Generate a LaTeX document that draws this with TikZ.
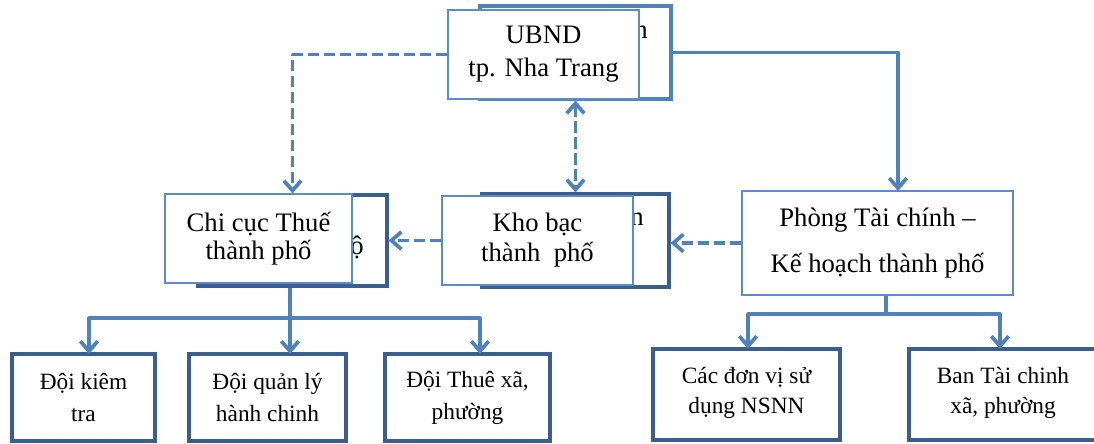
\documentclass[tikz,border=0pt]{standalone}
\usepackage{fontspec}
\setmainfont{Liberation Serif}
\usetikzlibrary{arrows.meta,calc}
\definecolor{lnblue}{HTML}{4F81BD}
\definecolor{bxblue}{HTML}{5B8BC9}
\definecolor{dkblue}{HTML}{3A5F8E}
\tikzset{
  sz/.style 2 args={minimum width=#1*0.75pt, minimum height=#2*0.75pt},
  frontbox/.style={draw=bxblue, line width=1.1pt, fill=white, inner sep=0pt, align=center,
    font=\fontsize{20}{24}\selectfont},
  backbox/.style={draw=#1, line width=2.3pt, fill=white, inner sep=0pt},
  unitbox/.style={draw=dkblue, line width=2.6pt, fill=white, inner sep=0pt, align=center,
    font=\fontsize{17.5}{24}\selectfont},
  frag/.style={inner sep=0pt, font=\fontsize{20}{24}\selectfont},
  conn/.style={draw=lnblue, line width=2.4pt, line join=round},
  dashconn/.style={conn, dash pattern=on 8.5pt off 3.5pt},
  tip/.style={-{Straight Barb[length=7.5pt,width=13pt,line width=2.8pt]}},
  tipboth/.style={{Straight Barb[length=7.5pt,width=13pt,line width=2.8pt]}-{Straight Barb[length=7.5pt,width=13pt,line width=2.8pt]}},
}
\begin{document}
\begin{tikzpicture}[x=0.75pt,y=-0.75pt]
\useasboundingbox (0,0) rectangle (1094,443);
\fill[white] (0,0) rectangle (1094,443);

% back boxes
\node[backbox=lnblue, sz={191}{93}] (ubb) at (575.5,52.5) {};
\node[backbox=dkblue, sz={189}{91}] (ccb) at (292.5,240.5) {};
\node[backbox=dkblue, sz={187}{93}] (kbb) at (575.5,240.5) {};

% fragments of hidden text
\node[frag] (f1) at (641,32) {n};
\node[frag] (f2) at (637,219) {n};
\node[frag] (f3) at (357,247) {ộ};

% front boxes
\node[frontbox, sz={191}{89}] (ub) at (543.5,54.5) {UBND\\[1pt]tp. Nha Trang\\[-19pt]};
\node[frontbox, sz={187}{89}, font=\fontsize{20}{21}\selectfont] (cc) at (258.5,238.5) {Chi cục Thuế\\thành phố};
\node[frontbox, sz={191}{89}, font=\fontsize{20}{22.5}\selectfont] (kb) at (537.5,240.5) {Kho bạc\\thành\ \ phố};
\node[frontbox, sz={271}{104}, font=\fontsize{20}{34}\selectfont] (ph) at (877.5,243) {Phòng Tài chính –\\Kế hoạch thành phố};
\coordinate (phn) at (898,191);

% unit boxes
\node[unitbox, sz={143}{87}] (b1) at (83.5,397.5) {Đội kiêm\\tra};
\node[unitbox, sz={157}{87}] (b2) at (267.5,397.5) {Đội quản lý\\hành chinh};
\node[unitbox, sz={165}{87}] (b3) at (467.5,397.5) {Đội Thuê xã,\\phường};
\node[unitbox, sz={187}{91}, font=\fontsize{17.5}{22.5}\selectfont] (b4) at (746.5,394.5) {Các đơn vị sử\\dụng NSNN\\[-16pt]};
\node[unitbox, sz={188}{91}, font=\fontsize{17.5}{22.5}\selectfont] (b5) at (1003,394.5) {Ban Tài chinh\\xã, phường\\[-16pt]};

% junction and arrow-end coordinates
\coordinate (cj) at (290,318);
\coordinate (t1) at (89,354);
\coordinate (t2) at (290,354);
\coordinate (t3) at (480,354);
\coordinate (pj) at (886,314);
\coordinate (t4) at (748,349);
\coordinate (t5) at (1000,349);

% connectors
\draw[dashconn,tip] (ub.west) -| (ccb.north);
\draw[conn,tip] (ubb.east) -| (phn);
\draw[dashconn,tipboth] (ubb.south) -- (kbb.north);
\draw[dashconn,tip] (kb.west) -- (kb.west -| ccb.east);
\draw[dashconn,tip] (ph.west) -- (ph.west -| kbb.east);

\draw[conn] (ccb.south -| cj) -- (cj);
\draw[conn,tip] (cj) -| (t1);
\draw[conn,tip] (cj) -- (t2);
\draw[conn,tip] (cj) -| (t3);

\draw[conn] (ph.south -| pj) -- (pj);
\draw[conn,tip] (pj) -| (t4);
\draw[conn,tip] (pj) -| (t5);
\end{tikzpicture}
\end{document}
